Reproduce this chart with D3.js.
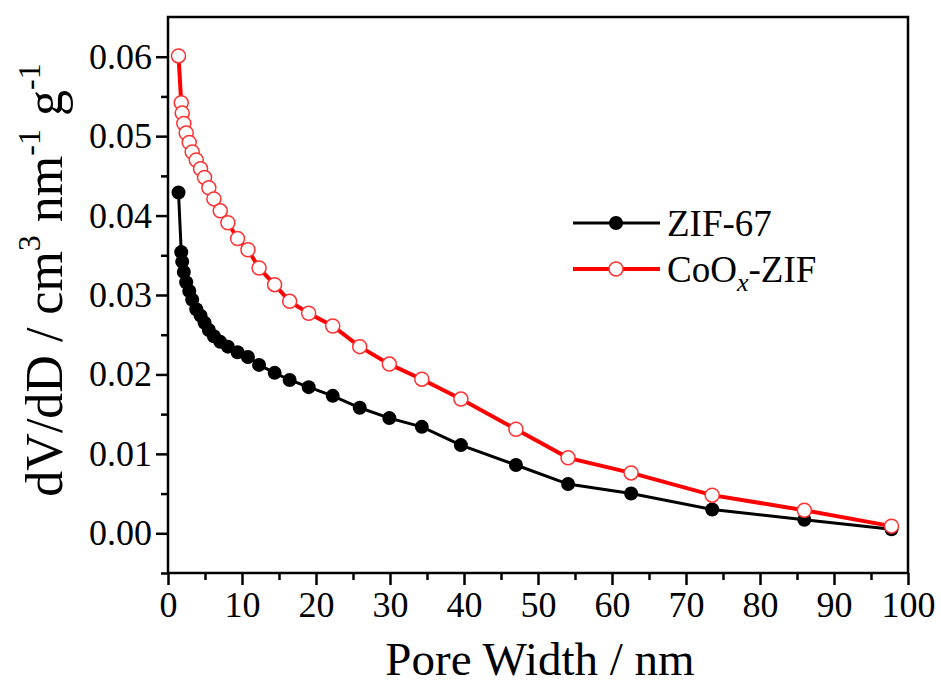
<!DOCTYPE html>
<html>
<head>
<meta charset="utf-8">
<script src="https://cdn.jsdelivr.net/npm/d3@7/dist/d3.min.js"></script>
<style>
  html, body { margin: 0; padding: 0; background: #fff; }
  svg { display: block; }
  text { font-family: "Liberation Serif", "Times New Roman", serif; }
</style>
</head>
<body>
<svg id="chart" width="941" height="687"></svg>
<script>
// ---- data ----
const poreWidth = [1.42, 1.79, 1.92, 2.14, 2.46, 2.87, 3.27, 3.82, 4.40, 4.94, 5.52, 6.20, 7.06, 8.09, 9.40, 10.80, 12.31, 14.41, 16.44, 19.01, 22.26, 25.91, 29.91, 34.30, 39.58, 47.02, 54.06, 62.58, 73.54, 85.99, 97.77];
const zif67 = [0.0429, 0.0354, 0.0342, 0.0329, 0.0316, 0.0305, 0.0294, 0.0282, 0.0274, 0.0265, 0.0256, 0.0248, 0.0241, 0.0235, 0.0228, 0.0222, 0.0212, 0.0202, 0.0193, 0.0184, 0.0173, 0.0158, 0.0145, 0.0134, 0.0111, 0.0086, 0.0062, 0.0050, 0.0030, 0.0017, 0.0005];
const coox = [0.0601, 0.0542, 0.0529, 0.0516, 0.0504, 0.0492, 0.0480, 0.0470, 0.0459, 0.0448, 0.0435, 0.0421, 0.0406, 0.0391, 0.0371, 0.0357, 0.0334, 0.0313, 0.0292, 0.0277, 0.0261, 0.0235, 0.0213, 0.0194, 0.0169, 0.0131, 0.0095, 0.0076, 0.0048, 0.0029, 0.0009];
const xTicks = [0, 10, 20, 30, 40, 50, 60, 70, 80, 90, 100];
const yTicks = [0.00, 0.01, 0.02, 0.03, 0.04, 0.05, 0.06];
const seriesNames = ["ZIF-67", "CoOx-ZIF"];

// ---- layout ----
const svg = d3.select("#chart");
const L = 168, R = 908, T = 17, B = 573;
const x = d3.scaleLinear().domain([0, 100]).range([L, R]);
const y = d3.scaleLinear().domain([-0.005, 0.065]).range([B, T]);

// frame
svg.append("rect").attr("x", L).attr("y", T).attr("width", R - L).attr("height", B - T)
  .attr("fill", "none").attr("stroke", "#000").attr("stroke-width", 2.5);

// x axis
const xMinor = d3.range(5, 100, 10);
const gx = svg.append("g").attr("transform", `translate(0,${B})`);
gx.call(d3.axisBottom(x).tickValues(xTicks).tickSize(12).tickPadding(6).tickFormat(d3.format("d")));
gx.call(g => g.select(".domain").remove());
gx.selectAll(".tick line").attr("stroke-width", 2.5);
gx.selectAll(".tick text").attr("font-size", 36).attr("font-family", "Liberation Serif").attr("fill", "#000");
const gxm = svg.append("g").attr("transform", `translate(0,${B})`);
gxm.call(d3.axisBottom(x).tickValues(xMinor).tickSize(7).tickFormat(""));
gxm.select(".domain").remove();
gxm.selectAll(".tick line").attr("stroke-width", 2.5);

// y axis
const yMinor = [-0.005, 0.005, 0.015, 0.025, 0.035, 0.045, 0.055];
const gy = svg.append("g").attr("transform", `translate(${L},0)`);
gy.call(d3.axisLeft(y).tickValues(yTicks).tickSize(12).tickPadding(4).tickFormat(d3.format(".2f")));
gy.select(".domain").remove();
gy.selectAll(".tick line").attr("stroke-width", 2.5);
gy.selectAll(".tick text").attr("font-size", 36).attr("font-family", "Liberation Serif").attr("fill", "#000");
const gym = svg.append("g").attr("transform", `translate(${L},0)`);
gym.call(d3.axisLeft(y).tickValues(yMinor).tickSize(7).tickFormat(""));
gym.select(".domain").remove();
gym.selectAll(".tick line").attr("stroke-width", 2.5);

// titles
svg.append("text").attr("x", 540).attr("y", 675).attr("text-anchor", "middle")
  .attr("font-size", 47).text("Pore Width / nm");

const yt = svg.append("text").attr("transform", `translate(62,280) rotate(-90)`)
  .attr("text-anchor", "middle").attr("font-size", 52);
yt.append("tspan").text("dV/dD / cm");
yt.append("tspan").attr("font-size", 32).attr("dy", -22).text("3");
yt.append("tspan").attr("dy", 22).text(" nm");
yt.append("tspan").attr("font-size", 32).attr("dy", -22).text("-1");
yt.append("tspan").attr("dy", 22).text(" g");
yt.append("tspan").attr("font-size", 32).attr("dy", -22).text("-1");

// series
const black = poreWidth.map((d, i) => [d, zif67[i]]);
const red = poreWidth.map((d, i) => [d, coox[i]]);
const line = d3.line().x(d => x(d[0])).y(d => y(d[1]));

svg.append("path").datum(black).attr("d", line).attr("fill", "none").attr("stroke", "#000").attr("stroke-width", 3);
svg.append("path").datum(red).attr("d", line).attr("fill", "none").attr("stroke", "#ff0000").attr("stroke-width", 4);

svg.append("g").selectAll("circle").data(black).join("circle")
  .attr("cx", d => x(d[0])).attr("cy", d => y(d[1])).attr("r", 7).attr("fill", "#000");
svg.append("g").selectAll("circle").data(red).join("circle")
  .attr("cx", d => x(d[0])).attr("cy", d => y(d[1])).attr("r", 7)
  .attr("fill", "#fff").attr("stroke", "#ff3030").attr("stroke-width", 1.5);

// legend
const lg = svg.append("g");
lg.append("line").attr("x1", 573).attr("x2", 660).attr("y1", 223).attr("y2", 223).attr("stroke", "#000").attr("stroke-width", 3);
lg.append("circle").attr("cx", 616).attr("cy", 223).attr("r", 7).attr("fill", "#000");
lg.append("text").attr("x", 667).attr("y", 236).attr("font-size", 37).text(seriesNames[0]);
lg.append("line").attr("x1", 573).attr("x2", 660).attr("y1", 269).attr("y2", 269).attr("stroke", "#ff0000").attr("stroke-width", 4);
lg.append("circle").attr("cx", 616).attr("cy", 269).attr("r", 7).attr("fill", "#fff").attr("stroke", "#ff3030").attr("stroke-width", 1.5);
const t2 = lg.append("text").attr("x", 667).attr("y", 282).attr("font-size", 37);
t2.append("tspan").text("CoO");
t2.append("tspan").attr("font-size", 26).attr("font-style", "italic").attr("dy", 9).text("x");
t2.append("tspan").attr("dy", -9).text("-ZIF");
</script>
</body>
</html>
